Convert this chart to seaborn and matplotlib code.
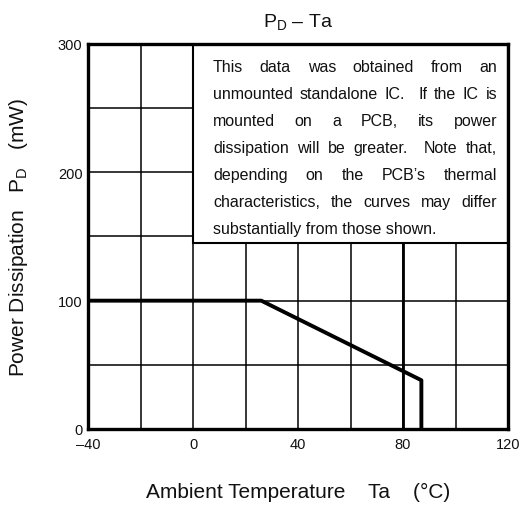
import re
import numpy as np
import pandas as pd
import matplotlib
matplotlib.use("Agg")
import matplotlib.pyplot as plt
import seaborn as sns
from matplotlib.patches import Rectangle
from matplotlib.transforms import IdentityTransform

# ---- data ----
ta_values = [-40, 26, 87, 87]
pd_values = [100, 100, 38, 0]
x_ticks = [-40, -20, 0, 20, 40, 60, 80, 100, 120]
x_tick_labels = ["\u201340", "", "0", "", "40", "", "80", "", "120"]
y_ticks = [0, 50, 100, 150, 200, 250, 300]
y_tick_labels = ["0", "", "100", "", "200", "", "300"]
title_text = "P$_\\mathrm{D}$ \u2013 Ta"
xlabel_text = "Ambient Temperature    Ta    (\u00b0C)"
ylabel_text = "Power Dissipation   P$_\\mathrm{D}$   (mW)"
note_lines = [
    "This data was obtained from an",
    "unmounted standalone IC.  If the IC is",
    "mounted on a PCB, its power",
    "dissipation will be greater.  Note that,",
    "depending on the PCB\u2019s thermal",
    "characteristics, the curves may differ",
    "substantially from those shown.",
]

sns.set_theme(style="white")
plt.rcParams["font.family"] = ["Liberation Sans", "DejaVu Sans"]
plt.rcParams["mathtext.fontset"] = "custom"
plt.rcParams["mathtext.rm"] = "Liberation Sans"
plt.rcParams["mathtext.it"] = "Liberation Sans:italic"
plt.rcParams["mathtext.bf"] = "Liberation Sans:bold"

W, H = 528, 506
fig = plt.figure(figsize=(W / 100, H / 100), dpi=100)
ax = fig.add_axes([88 / W, 1 - 430 / H, 420 / W, 385 / H])

df = pd.DataFrame({"Ta": ta_values, "PD": pd_values})

ax.set_xlim(-40, 120)
ax.set_ylim(0, 300)
ax.set_xticks(x_ticks)
ax.set_xticklabels(x_tick_labels)
ax.set_yticks(y_ticks)
ax.set_yticklabels(y_tick_labels)
ax.tick_params(axis="both", length=0, labelsize=10.5, colors="#111111")
ax.tick_params(axis="x", pad=6)
ax.tick_params(axis="y", pad=4)
ax.grid(True, color="black", linewidth=1.1, zorder=1)
ax.set_axisbelow(True)
ax.axvline(80, color="black", linewidth=2.0, zorder=1.5)

# note box
ax.add_patch(Rectangle((0, 145), 120, 155, facecolor="white", edgecolor="black",
                       linewidth=1.5, zorder=2))

sns.lineplot(data=df, x="Ta", y="PD", sort=False, estimator=None, color="black",
             linewidth=2.8, ax=ax, zorder=3)

for s in ax.spines.values():
    s.set_visible(True)
    s.set_color("black")
    s.set_linewidth(2.4)
    s.set_zorder(4)

ax.set_title(title_text, fontsize=14, pad=13, color="#111111")
ax.set_xlabel(xlabel_text, fontsize=15, labelpad=22, color="#111111")
ax.set_ylabel(ylabel_text, fontsize=15, labelpad=20, color="#111111")

# justified note text
fig.canvas.draw()
renderer = fig.canvas.get_renderer()
x_left, x_right = 213, 497
base0, step = 71.7, 27.05
fs = 11.5
for i, line in enumerate(note_lines):
    y = H - (base0 + step * i)
    if i == len(note_lines) - 1:
        fig.text(x_left, y, line, fontsize=fs, transform=IdentityTransform(),
                 ha="left", va="baseline", color="#111111")
        continue
    tokens = re.split(r"( +)", line)
    words = tokens[0::2]
    spaces = [len(t) for t in tokens[1::2]]
    texts = [fig.text(0, y, w, fontsize=fs, transform=IdentityTransform(),
                      ha="left", va="baseline", color="#111111") for w in words]
    widths = [t.get_window_extent(renderer).width for t in texts]
    unit = (x_right - x_left - sum(widths)) / sum(spaces)
    x = x_left
    for k, t in enumerate(texts):
        t.set_x(x)
        x += widths[k]
        if k < len(spaces):
            x += unit * spaces[k]

fig.savefig("out.png", dpi=100)
